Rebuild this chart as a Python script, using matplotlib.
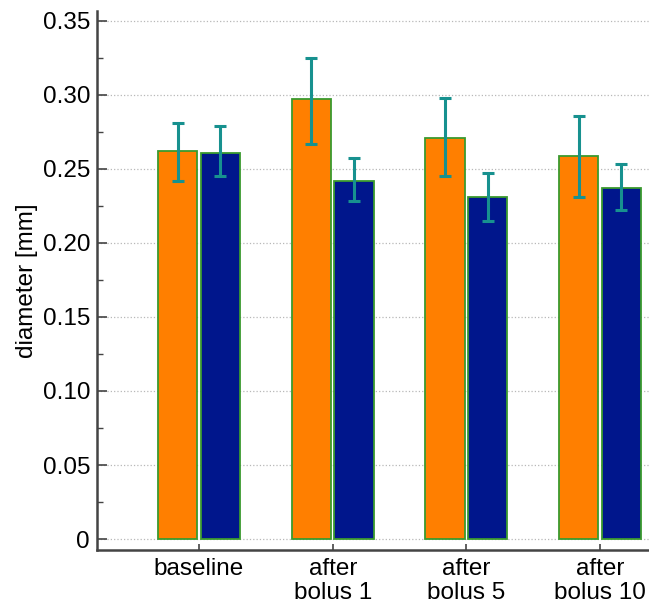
import numpy as np
import matplotlib
matplotlib.use("Agg")
import matplotlib.pyplot as plt
from matplotlib.ticker import MultipleLocator

plt.rcParams['font.family'] = ['Liberation Sans', 'DejaVu Sans']

# 數據
groups = ["baseline", "after\nbolus 1", "after\nbolus 5", "after\nbolus 10"]
orange_vals = [0.262, 0.297, 0.271, 0.259]
orange_lo = [0.242, 0.267, 0.245, 0.231]
orange_hi = [0.281, 0.325, 0.298, 0.286]
blue_vals = [0.261, 0.242, 0.231, 0.237]
blue_lo = [0.245, 0.228, 0.215, 0.222]
blue_hi = [0.279, 0.257, 0.247, 0.253]

x = np.arange(1, len(groups) + 1)
width = 0.295
offset = 0.16

fig = plt.figure(figsize=(6.49, 6.08), dpi=100)
ax = fig.add_axes([0.1495, 0.0954, 0.8505, 0.8865])

err_kw = dict(ecolor='#17918f', elinewidth=2.2, capsize=4.3, capthick=2.2)
ov = np.array(orange_vals)
bv = np.array(blue_vals)
ax.bar(x - offset, ov, width, color='#ff7f00', edgecolor='#3a9a2e', linewidth=1.3,
       yerr=[ov - np.array(orange_lo), np.array(orange_hi) - ov], error_kw=err_kw, zorder=2)
ax.bar(x + offset, bv, width, color='#00168c', edgecolor='#3a9a2e', linewidth=1.3,
       yerr=[bv - np.array(blue_lo), np.array(blue_hi) - bv], error_kw=err_kw, zorder=2)

ax.set_xlim(0.237, 4.366)
ax.set_ylim(-0.0074, 0.3566)
ax.yaxis.set_minor_locator(MultipleLocator(0.025))
ax.set_yticks([0, 0.05, 0.10, 0.15, 0.20, 0.25, 0.30, 0.35])
ax.set_yticklabels(["0", "0.05", "0.10", "0.15", "0.20", "0.25", "0.30", "0.35"])
ax.set_xticks(x)
ax.set_xticklabels(groups, linespacing=1.1)

ax.grid(axis='y', which='major', color='#b8b8b8', linestyle=':', linewidth=0.9, zorder=0)
ax.set_axisbelow(True)

for side in ['top', 'right']:
    ax.spines[side].set_visible(False)
for side in ['left', 'bottom']:
    ax.spines[side].set_color('#444444')
    ax.spines[side].set_linewidth(1.8)

ax.tick_params(axis='y', which='major', direction='in', length=7, width=1.2,
               color='#444444', labelsize=17.5, pad=5)
ax.tick_params(axis='y', which='minor', direction='in', length=4, width=1.0, color='#444444')
ax.tick_params(axis='x', which='major', direction='in', length=4, width=1.2,
               color='#444444', labelsize=17.5, pad=6)
ax.set_ylabel("diameter [mm]", fontsize=17.5, labelpad=3)

fig.savefig("out.png", dpi=100)
